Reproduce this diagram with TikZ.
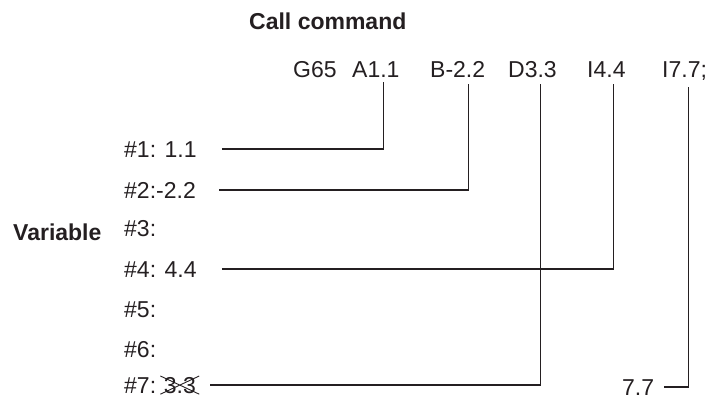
\documentclass[tikz,border=0pt]{standalone}
\usepackage{fontspec}
\setmainfont{Liberation Sans}
\usetikzlibrary{shapes.misc,positioning}
\definecolor{ink}{rgb}{0.14,0.12,0.13}

\begin{document}
\begin{tikzpicture}[
    x=1pt, y=-1pt,
    txt/.style={anchor=base west, inner sep=0pt, text=ink, font=\fontsize{23}{27}\selectfont},
    head/.style={txt, font=\fontsize{23}{27}\selectfont\bfseries},
    wire/.style={draw=ink, line width=1.3pt},
    crossed/.style={cross out, draw=ink, line width=0.9pt, inner xsep=3pt, inner ysep=0.5pt}
]
\useasboundingbox (0,0) rectangle (709,400);

% --- Headings
\node[head] (title) at (249,29) {Call command};
\node[head] (varlbl) at (13,240) {Variable};

% --- Command line
\node[txt] (cG) at (293,77) {G65};
\node[txt] (cA) at (352,77) {A1.1};
\node[txt] (cB) at (430,77) {B-2.2};
\node[txt] (cD) at (508,77) {D3.3};
\node[txt] (cI) at (587,77) {I4.4};
\node[txt] (cJ) at (662,77) {I7.7;};

% --- Variables
\node[txt] (v1) at (124,157) {\#1: 1.1};
\node[txt] (v2) at (124,198) {\#2:-2.2};
\node[txt] (v3) at (124,236) {\#3:};
\node[txt] (v4) at (124,277) {\#4: 4.4};
\node[txt] (v5) at (124,317) {\#5:};
\node[txt] (v6) at (124,357) {\#6:};
\node[txt] (v7) at (124,393) {\#7:};
\node[txt, crossed, base right=4pt of v7] (v7old) {3.3};
\node[txt] (r7) at (622,395) {7.7};

% Connectors
\draw[wire] ([xshift=25pt]v1.east) -| ([xshift=7.4pt,yshift=-5pt]cA.south);
\draw[wire] ([xshift=23pt]v2.east) -| ([xshift=10.5pt,yshift=-7pt]cB.south);
\draw[wire] ([xshift=25pt]v4.east) -| ([xshift=6.8pt,yshift=-7pt]cI.south);
\draw[wire] ([xshift=11pt]v7old.east) -| ([xshift=7.7pt,yshift=-7pt]cD.south);
\draw[wire] ([xshift=10pt]r7.east) -| ([xshift=3.6pt,yshift=-7pt]cJ.south);

\end{tikzpicture}
\end{document}
